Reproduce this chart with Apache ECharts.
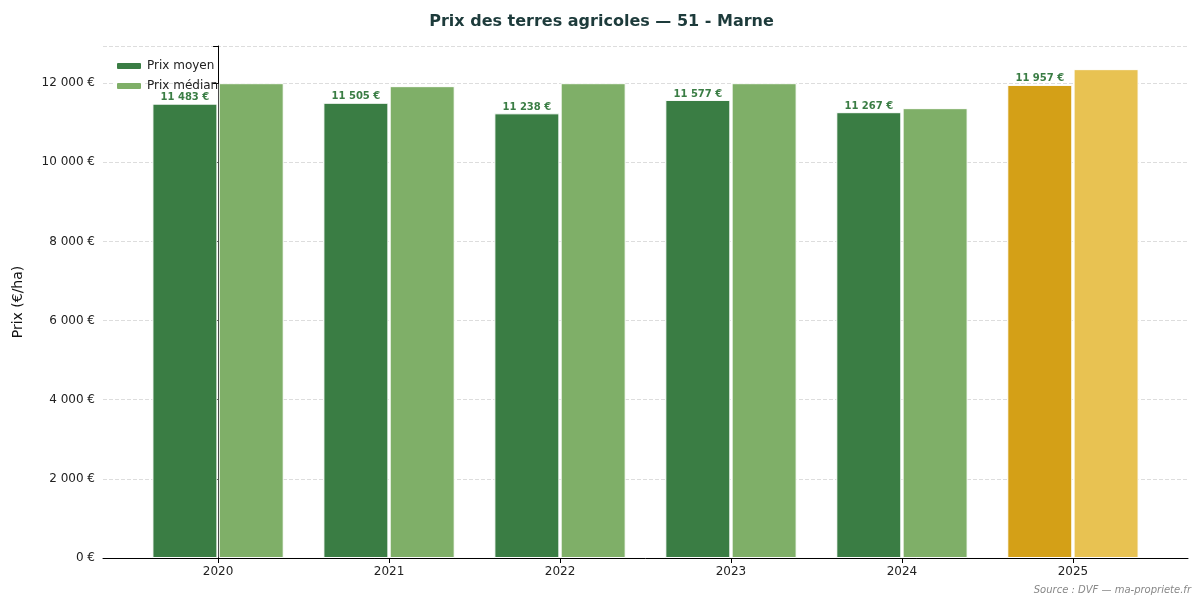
<!DOCTYPE html><html><head><meta charset="utf-8"><script src="https://cdn.jsdelivr.net/npm/echarts@6/dist/echarts.min.js"></script></head><body style="margin:0"><div id="c" style="width:1203px;height:606px"></div><script>
const years=['2020','2021','2022','2023','2024','2025'];
const moyen=[11483,11505,11238,11577,11267,11957];
const median=[12000,11925,12000,12000,11369,12355];
const yTicks=[0,2000,4000,6000,8000,10000,12000];
const fmt=v=>String(v).replace(/\B(?=(\d{3})+(?!\d))/g,' ')+' €';
const dark=['#3A7D44','#3A7D44','#3A7D44','#3A7D44','#3A7D44','#D4A017'];
const light=['#7FAF68','#7FAF68','#7FAF68','#7FAF68','#7FAF68','#E8C252'];
const ch=echarts.init(document.getElementById('c'));
ch.setOption({
 animation:false,
 title:{text:'Prix des terres agricoles — 51 - Marne',left:'center',top:9,textStyle:{fontSize:16,fontWeight:'bold',color:'#1d3b3b',fontFamily:'DejaVu Sans'}},
 graphic:[{type:'text',right:12,bottom:11,style:{text:'Source : DVF — ma-propriete.fr',fill:'#888',font:'italic 10px DejaVu Sans'}}],
 legend:{left:110,top:55,orient:'vertical',itemWidth:26,itemHeight:8,itemGap:8,textStyle:{fontSize:12,fontFamily:'DejaVu Sans',color:'#222'},data:[{name:'Prix moyen',itemStyle:{color:'#3A7D44'}},{name:'Prix médian',itemStyle:{color:'#7FAF68'}}]},
 grid:{left:103,right:15,top:46,bottom:48},
 xAxis:{type:'value',min:-0.673,max:5.673,splitLine:{show:false},axisLine:{lineStyle:{color:'#000'}},
  axisTick:{customValues:[0,1,2,3,4,5],lineStyle:{color:'#000'}},
  axisLabel:{customValues:[0,1,2,3,4,5],formatter:v=>years[Math.round(v)],color:'#222',fontSize:12,fontFamily:'DejaVu Sans'}},
 yAxis:{type:'value',min:0,max:12940,interval:2000,name:'Prix (€/ha)',nameLocation:'middle',nameGap:78,nameTextStyle:{fontSize:14,color:'#111',fontFamily:'DejaVu Sans'},
  axisLine:{show:true,lineStyle:{color:'#000'}},axisTick:{show:true,lineStyle:{color:'#000'}},
  axisLabel:{formatter:v=>yTicks.includes(v)?fmt(v):'',color:'#222',fontSize:12,fontFamily:'DejaVu Sans'},
  splitLine:{lineStyle:{type:'dashed',color:'#ddd'}}},
 series:[
  {name:'Prix moyen',type:'bar',barWidth:65,barGap:'2%',data:moyen.map((v,i)=>({value:[i,v],itemStyle:{color:dark[i]}})),
   itemStyle:{borderColor:'#fff',borderWidth:1},
   label:{show:true,position:'top',distance:1,formatter:p=>fmt(p.value[1]),fontSize:10,fontWeight:'bold',color:'#3A7D44',fontFamily:'DejaVu Sans'}},
  {name:'Prix médian',type:'bar',barWidth:65,barGap:'2%',data:median.map((v,i)=>({value:[i,v],itemStyle:{color:light[i]}})),itemStyle:{borderColor:'#fff',borderWidth:1}}
 ]
});
</script></body></html>
